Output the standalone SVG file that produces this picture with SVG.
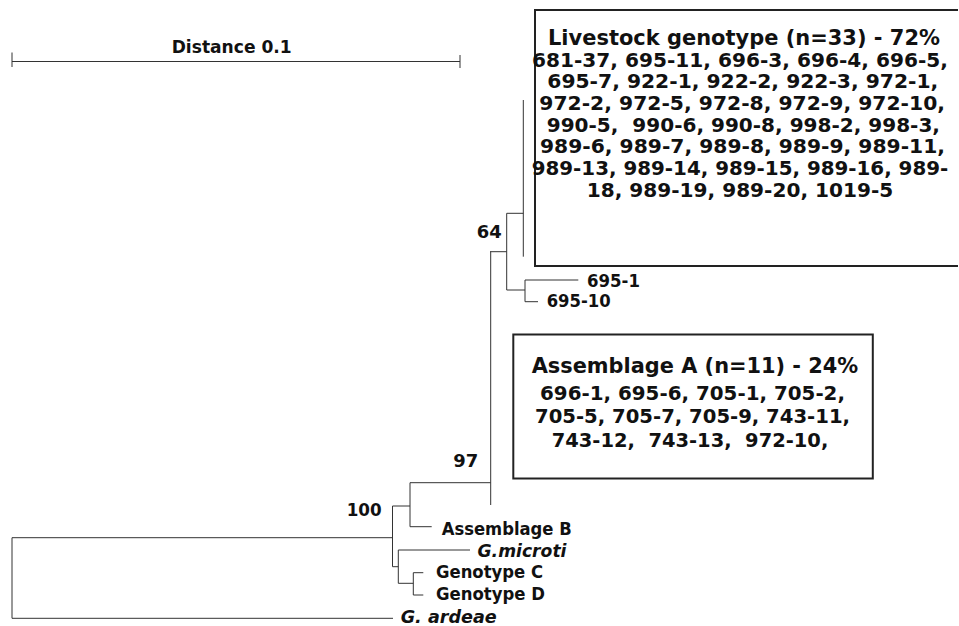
<svg xmlns="http://www.w3.org/2000/svg" width="959" height="626" viewBox="0 0 959 626">
<style>
  .ln { stroke: #333; stroke-width: 1; fill: none; }
  .box { stroke: #222; stroke-width: 2; fill: none; }
  text { font-family: "DejaVu Sans", "Liberation Sans", sans-serif; font-weight: bold; fill: #111; white-space: pre; }
  .lbl { font-size: 18.5px; }
  .it { font-style: italic; }
  .hd { font-size: 21.5px; }
  .bl { font-size: 19px; }
</style>
<rect x="0" y="0" width="959" height="626" fill="#fff"/>

<g id="scale-bar">
  <path class="ln" d="M12 61.5 H460 M12 52.5 V67 M460 55 V68"/>
  <text class="lbl" x="171.7" y="53.3" textLength="120" lengthAdjust="spacingAndGlyphs">Distance 0.1</text>
</g>

<g id="connectors">
  <path class="ln" d="M12 537.7 H392.5 M12 537.7 V618.3 M12 618.3 H393"/>
  <path class="ln" d="M392.5 506 V566.7 M392.5 506 H410 M392.5 566.7 H398.3"/>
  <path class="ln" d="M410 482.7 V526.7 M410 526.7 H431.7 M410 482.7 H490.7"/>
  <path class="ln" d="M398.3 550 V583.3 M398.3 550 H470 M398.3 583.3 H413.3"/>
  <path class="ln" d="M413.3 572.7 V595 M413.3 572.7 H423.3 M413.3 595 H423.3"/>
  <path class="ln" d="M490.7 251.7 V505 M490 251.7 H506.7"/>
  <path class="ln" d="M506.7 213.3 V290 M506.7 213.3 H523.3 M506.7 290 H525"/>
  <path class="ln" d="M523.3 100 V256.7"/>
  <path class="ln" d="M525 280 V301.7 M525 280 H578.3 M525 301.7 H538"/>
</g>

<g id="bootstrap-labels">
  <text class="lbl" x="476.7" y="238.3" textLength="25" lengthAdjust="spacingAndGlyphs">64</text>
  <text class="lbl" x="453.3" y="467.3" textLength="25" lengthAdjust="spacingAndGlyphs">97</text>
  <text class="lbl" x="346.7" y="515.5" textLength="35" lengthAdjust="spacingAndGlyphs">100</text>
</g>

<g id="leaf-695-1"><text class="lbl" x="587" y="287" textLength="53" lengthAdjust="spacingAndGlyphs">695-1</text></g>
<g id="leaf-695-10"><text class="lbl" x="546.7" y="307" textLength="64" lengthAdjust="spacingAndGlyphs">695-10</text></g>
<g id="leaf-assemblage-b"><text class="lbl" x="441.7" y="535" textLength="130" lengthAdjust="spacingAndGlyphs">Assemblage B</text></g>
<g id="leaf-g-microti"><text class="lbl it" x="477.5" y="556.5" textLength="89" lengthAdjust="spacingAndGlyphs">G.microti</text></g>
<g id="leaf-genotype-c"><text class="lbl" x="436" y="578" textLength="107" lengthAdjust="spacingAndGlyphs">Genotype C</text></g>
<g id="leaf-genotype-d"><text class="lbl" x="436" y="600" textLength="109" lengthAdjust="spacingAndGlyphs">Genotype D</text></g>
<g id="leaf-g-ardeae"><text class="lbl it" x="400.7" y="622.5" textLength="96" lengthAdjust="spacingAndGlyphs">G. ardeae</text></g>

<g id="livestock-box">
  <path class="box" d="M958 10 H535 V266 H958"/>
  <text class="hd" x="548" y="44.5" textLength="392" lengthAdjust="spacingAndGlyphs">Livestock genotype (n=33) - 72%</text>
  <text class="bl" x="532" y="66.7" textLength="416" lengthAdjust="spacingAndGlyphs">681-37, 695-11, 696-3, 696-4, 696-5,</text>
  <text class="bl" x="547.3" y="88.3" textLength="391" lengthAdjust="spacingAndGlyphs">695-7, 922-1, 922-2, 922-3, 972-1,</text>
  <text class="bl" x="539.3" y="110" textLength="405.7" lengthAdjust="spacingAndGlyphs">972-2, 972-5, 972-8, 972-9, 972-10,</text>
  <text class="bl" x="546.7" y="131.7" textLength="393.3" lengthAdjust="spacingAndGlyphs">990-5,  990-6, 990-8, 998-2, 998-3,</text>
  <text class="bl" x="540" y="153.3" textLength="405" lengthAdjust="spacingAndGlyphs">989-6, 989-7, 989-8, 989-9, 989-11,</text>
  <text class="bl" x="531.7" y="175" textLength="416.6" lengthAdjust="spacingAndGlyphs">989-13, 989-14, 989-15, 989-16, 989-</text>
  <text class="bl" x="586.7" y="196.7" textLength="306.6" lengthAdjust="spacingAndGlyphs">18, 989-19, 989-20, 1019-5</text>
</g>

<g id="assemblage-a-box">
  <rect class="box" x="513.3" y="334.5" width="359.5" height="144"/>
  <text class="hd" style="font-size:21px" x="531.7" y="373.3" textLength="326.6" lengthAdjust="spacingAndGlyphs">Assemblage A (n=11) - 24%</text>
  <text class="bl" x="540" y="400" textLength="305" lengthAdjust="spacingAndGlyphs">696-1, 695-6, 705-1, 705-2,</text>
  <text class="bl" x="535" y="423.3" textLength="315" lengthAdjust="spacingAndGlyphs">705-5, 705-7, 705-9, 743-11,</text>
  <text class="bl" x="551.7" y="446.7" textLength="276.6" lengthAdjust="spacingAndGlyphs">743-12,  743-13,  972-10,</text>
</g>
</svg>
